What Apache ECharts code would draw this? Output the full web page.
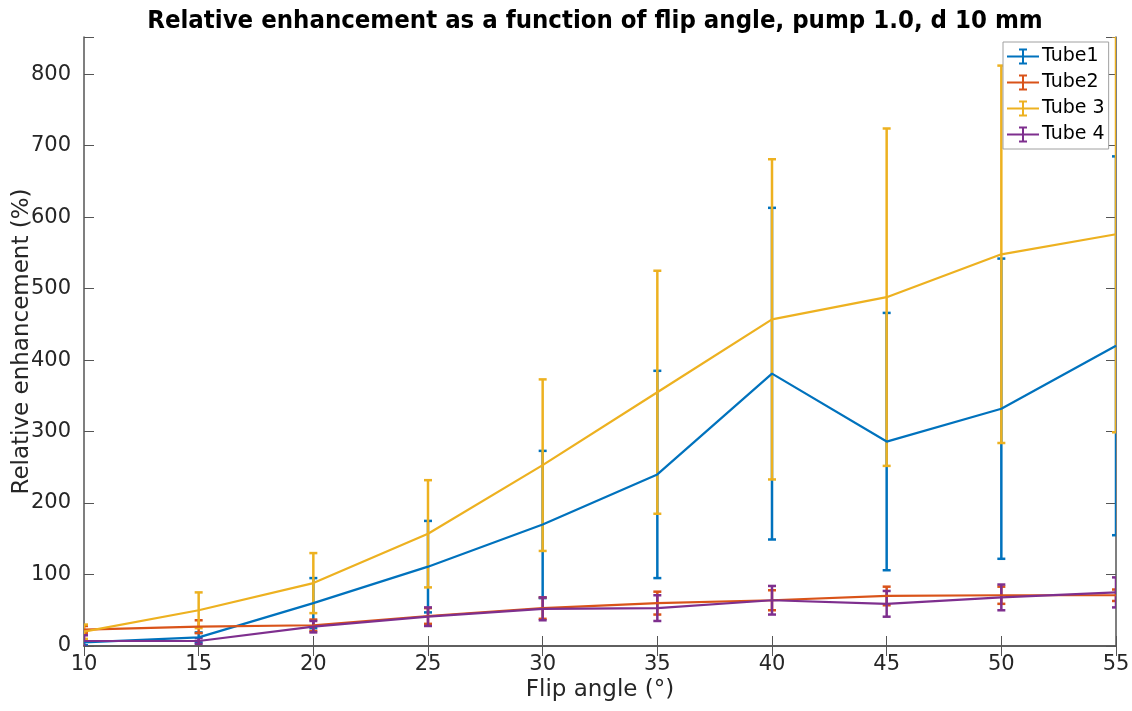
<!DOCTYPE html>
<html>
<head>
<meta charset="utf-8">
<script src="https://cdn.jsdelivr.net/npm/echarts@6/dist/echarts.min.js"></script>
<style>
  html, body { margin: 0; padding: 0; background: #fff; }
  #chart { width: 1132px; height: 711px; }
</style>
</head>
<body>
<div id="chart"></div>
<script>
// Flip angles (degrees)
const angles = [10, 15, 20, 25, 30, 35, 40, 45, 50, 55];

// Mean relative enhancement (%) and symmetric error per tube
const tube1Mean = [5, 12, 60, 111, 170, 240, 381, 286, 332, 420];
const tube1Err  = [4, 7, 35, 64, 103, 145, 232, 180, 210, 265];

const tube2Mean = [23, 27, 29, 42, 53, 60, 64, 70, 71, 71];
const tube2Err  = [5, 9, 8, 11, 15, 16, 14, 13, 12, 8];

const tube3Mean = [20, 50, 88, 157, 253, 355, 457, 488, 548, 576];
const tube3Err  = [10, 25, 42, 75, 120, 170, 224, 236, 264, 277];

const tube4Mean = [7, 7, 27, 41, 52, 53, 64, 59, 68, 75];
const tube4Err  = [8, 4, 8, 13, 16, 18, 20, 18, 18, 21];

const seriesNames = ['Tube1', 'Tube2', 'Tube 3', 'Tube 4'];
const yTicks = [0, 100, 200, 300, 400, 500, 600, 700, 800];

const colors = ['#0072BD', '#D95319', '#EDB120', '#7E2F8E'];
const means = [tube1Mean, tube2Mean, tube3Mean, tube4Mean];
const errs = [tube1Err, tube2Err, tube3Err, tube4Err];

const FONT = 'DejaVu Sans';
const AXIS_COLOR = '#555555';
const TEXT_COLOR = '#262626';

// Legend glyph: a line crossed by a capped error bar, built from filled rectangles
const errIcon = 'path://M0,7H32V9H0Z M15,0H17V16H15Z M12,0H20V2H12Z M12,14H20V16H12Z';

function errorBarRenderer(color) {
  return function (params, api) {
    const x = api.value(0);
    const lo = api.coord([x, api.value(1)]);
    const hi = api.coord([x, api.value(2)]);
    const cap = 4;
    const style = { stroke: color, lineWidth: 2.5 };
    return {
      type: 'group',
      children: [
        { type: 'line', shape: { x1: lo[0], y1: lo[1], x2: hi[0], y2: hi[1] }, style },
        { type: 'line', shape: { x1: lo[0] - cap, y1: lo[1], x2: lo[0] + cap, y2: lo[1] }, style },
        { type: 'line', shape: { x1: hi[0] - cap, y1: hi[1], x2: hi[0] + cap, y2: hi[1] }, style }
      ]
    };
  };
}

const series = [];
seriesNames.forEach(function (name, i) {
  series.push({
    name: name,
    type: 'line',
    xAxisIndex: 0,
    yAxisIndex: 0,
    data: angles.map(function (a, k) { return [a, means[i][k]]; }),
    symbol: 'none',
    lineStyle: { color: colors[i], width: 2.2 },
    itemStyle: { color: colors[i] },
    animation: false
  });
  series.push({
    name: name,
    type: 'custom',
    xAxisIndex: 0,
    yAxisIndex: 0,
    data: angles.map(function (a, k) {
      return [a, means[i][k] - errs[i][k], means[i][k] + errs[i][k]];
    }),
    encode: { x: 0, y: [1, 2] },
    renderItem: errorBarRenderer(colors[i]),
    itemStyle: { color: colors[i] },
    clip: true,
    animation: false
  });
});

const chart = echarts.init(document.getElementById('chart'), null, { renderer: 'canvas' });
chart.setOption({
  animation: false,
  backgroundColor: '#ffffff',
  title: {
    text: 'Relative enhancement as a function of flip angle, pump 1.0, d 10 mm',
    left: 590,
    textAlign: 'center',
    top: 3,
    textStyle: { fontFamily: 'DejaVu Sans Condensed', fontWeight: 'bold', fontSize: 25.5, color: '#000' }
  },
  legend: {
    orient: 'vertical',
    left: 1003,
    top: 42,
    width: 105,
    itemWidth: 32,
    itemHeight: 16,
    itemGap: 7,
    padding: [5, 4, 5, 4],
    backgroundColor: '#ffffff',
    borderColor: '#a0a0a0',
    borderWidth: 1,
    textStyle: { fontFamily: FONT, fontSize: 19, color: '#000', padding: [0, 0, 0, -2] },
    data: seriesNames.map(function (n) { return { name: n, icon: errIcon }; })
  },
  grid: { left: 84, right: 16, top: 37, bottom: 65, containLabel: false, outerBoundsMode: 'none' },
  xAxis: [{
    type: 'value',
    min: 10, max: 55, interval: 5,
    name: 'Flip angle (°)',
    nameLocation: 'middle',
    nameGap: 33,
    nameMoveOverlap: false,
    nameTextStyle: { fontFamily: FONT, fontSize: 23, color: TEXT_COLOR },
    axisLine: { show: true, lineStyle: { color: AXIS_COLOR, width: 1.5 } },
    axisTick: { show: true, inside: true, length: 10, lineStyle: { color: AXIS_COLOR } },
    axisLabel: { fontFamily: FONT, fontSize: 21, color: TEXT_COLOR, margin: 8 },
    splitLine: { show: false }
  }, {
    type: 'value',
    position: 'top',
    min: 10, max: 55, interval: 5,
    axisLine: { show: true, lineStyle: { color: AXIS_COLOR, width: 1.5 } },
    axisTick: { show: true, inside: true, length: 10, lineStyle: { color: AXIS_COLOR } },
    axisLabel: { show: false },
    splitLine: { show: false }
  }],
  yAxis: [{
    type: 'value',
    min: 0, max: 852, interval: 100,
    name: 'Relative enhancement (%)',
    nameLocation: 'middle',
    nameGap: 50,
    nameMoveOverlap: false,
    nameTextStyle: { fontFamily: FONT, fontSize: 23, color: TEXT_COLOR },
    axisLine: { show: true, lineStyle: { color: AXIS_COLOR, width: 1.5 } },
    axisTick: { show: true, inside: true, length: 10, lineStyle: { color: AXIS_COLOR } },
    axisLabel: {
      fontFamily: FONT, fontSize: 21, color: TEXT_COLOR, margin: 13,
      formatter: function (v) { return yTicks.indexOf(v) >= 0 ? String(v) : ''; }
    },
    splitLine: { show: false }
  }, {
    type: 'value',
    position: 'right',
    min: 0, max: 852, interval: 100,
    axisLine: { show: true, lineStyle: { color: AXIS_COLOR, width: 1.5 } },
    axisTick: { show: true, inside: true, length: 10, lineStyle: { color: AXIS_COLOR } },
    axisLabel: { show: false },
    splitLine: { show: false }
  }],
  series: series
});
</script>
</body>
</html>
